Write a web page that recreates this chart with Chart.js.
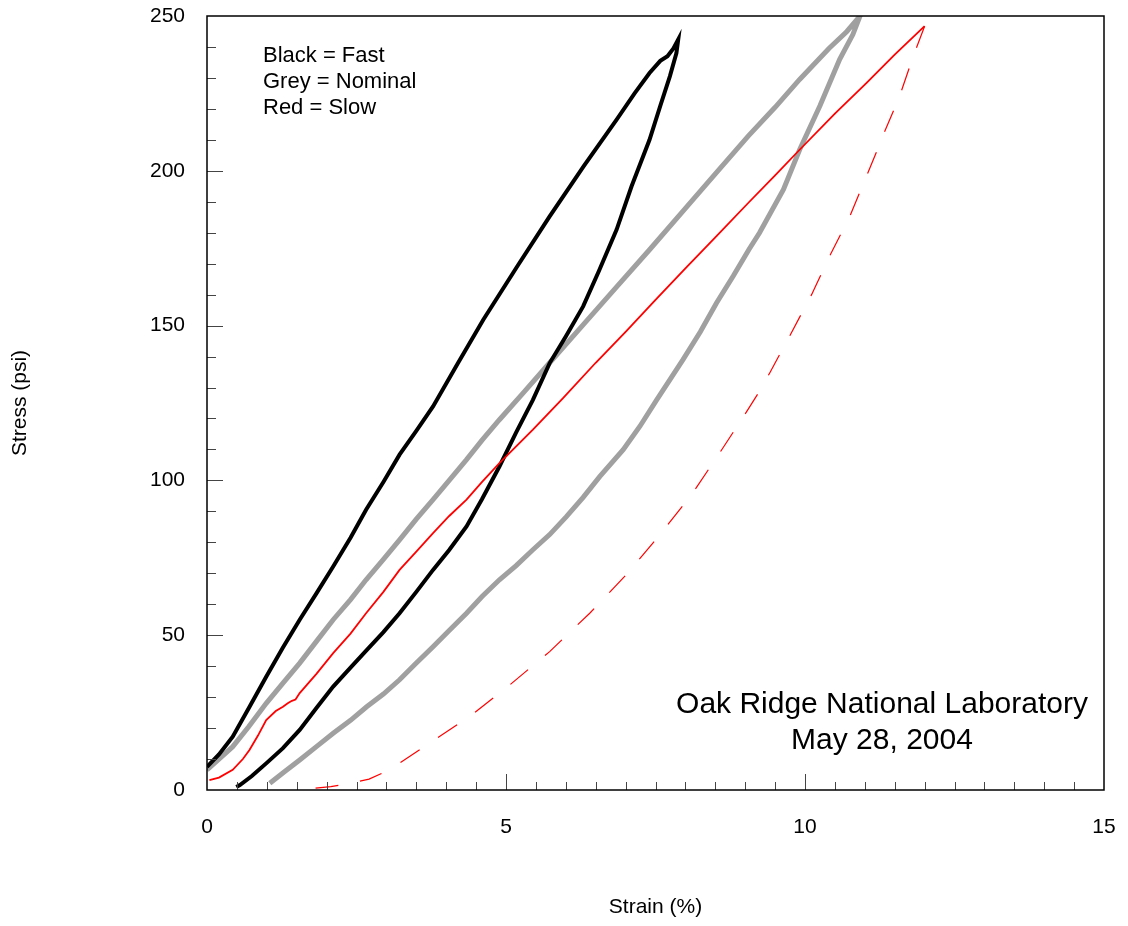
<!DOCTYPE html>
<html>
<head>
<meta charset="utf-8">
<title>Stress vs Strain</title>
<script src="https://cdn.jsdelivr.net/npm/chart.js@4.4.1/dist/chart.umd.min.js"></script>
<style>
  html, body { margin: 0; padding: 0; background: #fff; }
  #wrap { width: 1128px; height: 926px; }
</style>
</head>
<body>
<div id="wrap"><canvas id="stressChart" width="1128" height="926"></canvas></div>
<script>
// ----------------------------------------------------------------------
// Data: strain in %, stress in psi
// ----------------------------------------------------------------------
const xTicks = [0, 5, 10, 15];
const yTicks = [0, 50, 100, 150, 200, 250];

// Black = Fast (loading, then unloading)
const fastStrain = [
  0, 0.2, 0.43, 0.7, 0.99, 1.27, 1.55, 1.83, 2.11, 2.4, 2.66, 2.95, 3.22, 3.5, 3.78,
  4.2, 4.62, 5.2, 5.73, 6.3, 6.85, 7.15, 7.4, 7.58, 7.7, 7.8, 7.88,
  7.85, 7.74, 7.58, 7.4, 7.1, 6.85, 6.55, 6.29, 6.0, 5.73, 5.45, 5.17, 4.89, 4.6,
  4.34, 4.05, 3.78, 3.5, 3.22, 2.95, 2.67, 2.4, 2.11, 1.83, 1.55, 1.27, 0.99, 0.75,
  0.55, 0.49
];
const fastStress = [
  7.5, 11.5, 17.2, 26.5, 36.6, 46, 55, 63.5, 72.2, 81.5, 90.5, 99.5, 108.3, 116, 123.9,
  138, 151.9, 169.5, 185.3, 201.5, 216.5, 225, 231.6, 235.5, 237, 239.5, 242.4,
  238, 230.5, 221, 210, 195, 181, 167.5, 156.2, 146.5, 137.9, 126, 115.5, 104.5, 94,
  85.1, 77.5, 71.1, 64, 57.1, 51, 45.2, 39.5, 33.4, 26.5, 19.4, 13.5, 8.6, 4.5,
  1.6, 1.0
];

// Grey = Nominal (loading, then unloading)
const nominalStrain = [
  0, 0.2, 0.43, 0.7, 0.99, 1.27, 1.55, 1.83, 2.11, 2.4, 2.66, 2.95, 3.22, 3.5, 3.78,
  4.05, 4.34, 4.6, 4.89, 5.3, 5.73, 6.3, 6.85, 7.4, 7.96, 8.5, 9.05, 9.5, 9.91, 10.4,
  10.7, 10.92,
  10.8, 10.58, 10.25, 9.91, 9.64, 9.24, 9.06, 8.8, 8.52, 8.25, 7.96, 7.52, 7.24, 6.96,
  6.57, 6.29, 6.01, 5.73, 5.45, 5.17, 4.89, 4.6, 4.34, 4.05, 3.78, 3.5, 3.22, 2.95,
  2.67, 2.4, 2.11, 1.83, 1.55, 1.3, 1.05
];
const nominalStress = [
  6.5, 10, 14, 20.5, 28, 34.5, 41, 48, 55, 61.5, 67.9, 74.5, 80.8, 87.5, 93.8,
  100, 106.7, 113, 119.6, 128.5, 138, 150.5, 162.5, 174.5, 187, 199, 211.2, 220.5, 229.5, 239.5,
  245, 250,
  244, 236, 221, 206.8, 194, 180, 174.5, 166, 157.3, 148, 139, 126, 117.5, 109.9,
  101.3, 94.5, 88.3, 82.5, 77.6, 72.5, 67.9, 62.5, 57.1, 51.5, 46.3, 41, 35.6, 31,
  26.9, 22.5, 18.3, 14, 9.7, 6, 2.2
];

// Red = Slow, loading (solid)
const slowLoadStrain = [
  0.04, 0.2, 0.43, 0.6, 0.71, 0.85, 0.99, 1.15, 1.27, 1.35, 1.42, 1.48, 1.55, 1.83,
  2.11, 2.4, 2.66, 2.95, 3.22, 3.5, 3.78, 4.05, 4.34, 4.6, 4.89, 5.17, 5.45, 5.95,
  6.5, 7.0, 7.5, 8.0, 8.5, 9.05, 9.5, 9.91, 10.5, 11.03, 11.5, 12.0
];
const slowLoadStress = [
  3.2, 4, 6.5, 10, 12.9, 17.5, 22.6, 25.5, 26.9, 28, 28.8, 29.2, 31.3, 37.5,
  44.2, 50.5, 57.1, 64, 71.1, 77, 83, 88.5, 93.8, 99.5, 105.6, 111, 116.4, 126.5,
  138, 148, 158.3, 168.5, 178.5, 189.6, 198.5, 206.8, 218.5, 228.4, 237.5, 246.7
];

// Red = Slow, unloading (dashed)
const slowUnloadStrain = [
  12.0, 11.81, 11.58, 11.3, 11.19, 10.75, 10.41, 10.11, 9.74, 9.41, 9.22, 8.99, 8.57,
  8.1, 7.57, 7.01, 6.4, 5.73, 5.06, 4.39, 3.72, 3.05, 2.71, 2.41, 2.07, 1.6
];
const slowUnloadStress = [
  246.7, 237, 224, 211.2, 205.8, 185.3, 172.4, 160, 146.5, 134.7, 128.2, 121.2, 108.8,
  95.3, 82.4, 69.5, 57.1, 44.7, 33.9, 23.7, 15.1, 6.5, 3.5, 2.2, 1.1, 0.2
];

const legendLines = ['Black = Fast', 'Grey = Nominal', 'Red = Slow'];
const labName = 'Oak Ridge National Laboratory';
const testDate = 'May 28, 2004';

// ----------------------------------------------------------------------
// Helpers
// ----------------------------------------------------------------------
const FONT = '"Liberation Sans", Arial, Helvetica, sans-serif';

function toPoints(xs, ys) {
  return xs.map((x, i) => ({ x: x, y: ys[i] }));
}

// fixed box sizes so the plot area lands where the original one is
function fixBox(scale, prop, size) {
  scale[prop] = size;
  scale.paddingTop = 0;
  scale.paddingBottom = 0;
  scale.paddingLeft = 0;
  scale.paddingRight = 0;
}

// Frame box, inward tick marks and the text notes inside the plot
const framePlugin = {
  id: 'frameAndNotes',
  afterDatasetsDraw(chart) {
    const { ctx, chartArea: a, scales: { x, y } } = chart;
    ctx.save();

    // tick marks (inside the plot area)
    ctx.strokeStyle = '#444';
    ctx.lineWidth = 1;
    ctx.beginPath();
    for (let v = 0.5; v < 15; v += 0.5) {
      const px = Math.round(x.getPixelForValue(v)) + 0.5;
      const len = (v % 5 === 0) ? 16 : 8;
      ctx.moveTo(px, a.bottom);
      ctx.lineTo(px, a.bottom - len);
    }
    for (let v = 10; v < 250; v += 10) {
      const py = Math.round(y.getPixelForValue(v)) + 0.5;
      const len = (v % 50 === 0) ? 16 : 9;
      ctx.moveTo(a.left, py);
      ctx.lineTo(a.left + len, py);
    }
    ctx.stroke();

    // frame
    ctx.strokeStyle = '#000';
    ctx.lineWidth = 1.5;
    ctx.strokeRect(a.left, a.top, a.right - a.left, a.bottom - a.top);

    // legend text
    ctx.fillStyle = '#000';
    ctx.textBaseline = 'alphabetic';
    ctx.textAlign = 'left';
    ctx.font = '22px ' + FONT;
    legendLines.forEach((t, i) => ctx.fillText(t, 263, 62 + i * 26));

    // lab note
    ctx.textAlign = 'center';
    ctx.font = '30px ' + FONT;
    ctx.fillText(labName, 882, 713);
    ctx.fillText(testDate, 882, 749);

    ctx.restore();
  }
};

// ----------------------------------------------------------------------
// Chart
// ----------------------------------------------------------------------
const ctx = document.getElementById('stressChart').getContext('2d');

new Chart(ctx, {
  type: 'scatter',
  data: {
    datasets: [
      {
        label: 'Slow (unloading)',
        data: toPoints(slowUnloadStrain, slowUnloadStress),
        borderColor: '#ff0000',
        borderWidth: 1.2,
        borderDash: [23, 22],
        showLine: true,
        pointRadius: 0,
        tension: 0
      },
      {
        label: 'Slow',
        data: toPoints(slowLoadStrain, slowLoadStress),
        borderColor: '#ff0000',
        borderWidth: 1.8,
        showLine: true,
        pointRadius: 0,
        tension: 0
      },
      {
        label: 'Fast',
        data: toPoints(fastStrain, fastStress),
        borderColor: '#000000',
        borderWidth: 4,
        showLine: true,
        pointRadius: 0,
        tension: 0
      },
      {
        label: 'Nominal',
        data: toPoints(nominalStrain, nominalStress),
        borderColor: '#a0a0a0',
        borderWidth: 5,
        showLine: true,
        pointRadius: 0,
        tension: 0
      }
    ]
  },
  options: {
    responsive: false,
    animation: false,
    layout: { padding: { top: 16, right: 24, left: 0, bottom: 0 } },
    scales: {
      x: {
        type: 'linear',
        position: 'bottom',
        min: 0,
        max: 15,
        afterBuildTicks: s => { s.ticks = xTicks.map(v => ({ value: v })); },
        afterFit: s => fixBox(s, 'height', 136),
        grid: { display: false, drawTicks: false },
        border: { display: false },
        ticks: {
          font: { family: FONT, size: 21 },
          color: '#000',
          padding: 25,
          maxRotation: 0
        },
        title: {
          display: true,
          text: 'Strain (%)',
          color: '#000',
          font: { family: FONT, size: 21 },
          padding: { top: 0, bottom: 6 }
        }
      },
      y: {
        type: 'linear',
        position: 'left',
        min: 0,
        max: 250,
        afterBuildTicks: s => { s.ticks = yTicks.map(v => ({ value: v })); },
        afterFit: s => fixBox(s, 'width', 207),
        grid: { display: false, drawTicks: false },
        border: { display: false },
        ticks: {
          font: { family: FONT, size: 21 },
          color: '#000',
          padding: 22
        },
        title: {
          display: true,
          text: 'Stress (psi)',
          color: '#000',
          font: { family: FONT, size: 21 },
          padding: { top: 8, bottom: 0 }
        }
      }
    },
    plugins: {
      legend: { display: false },
      tooltip: { enabled: false }
    }
  },
  plugins: [framePlugin]
});
</script>
</body>
</html>
